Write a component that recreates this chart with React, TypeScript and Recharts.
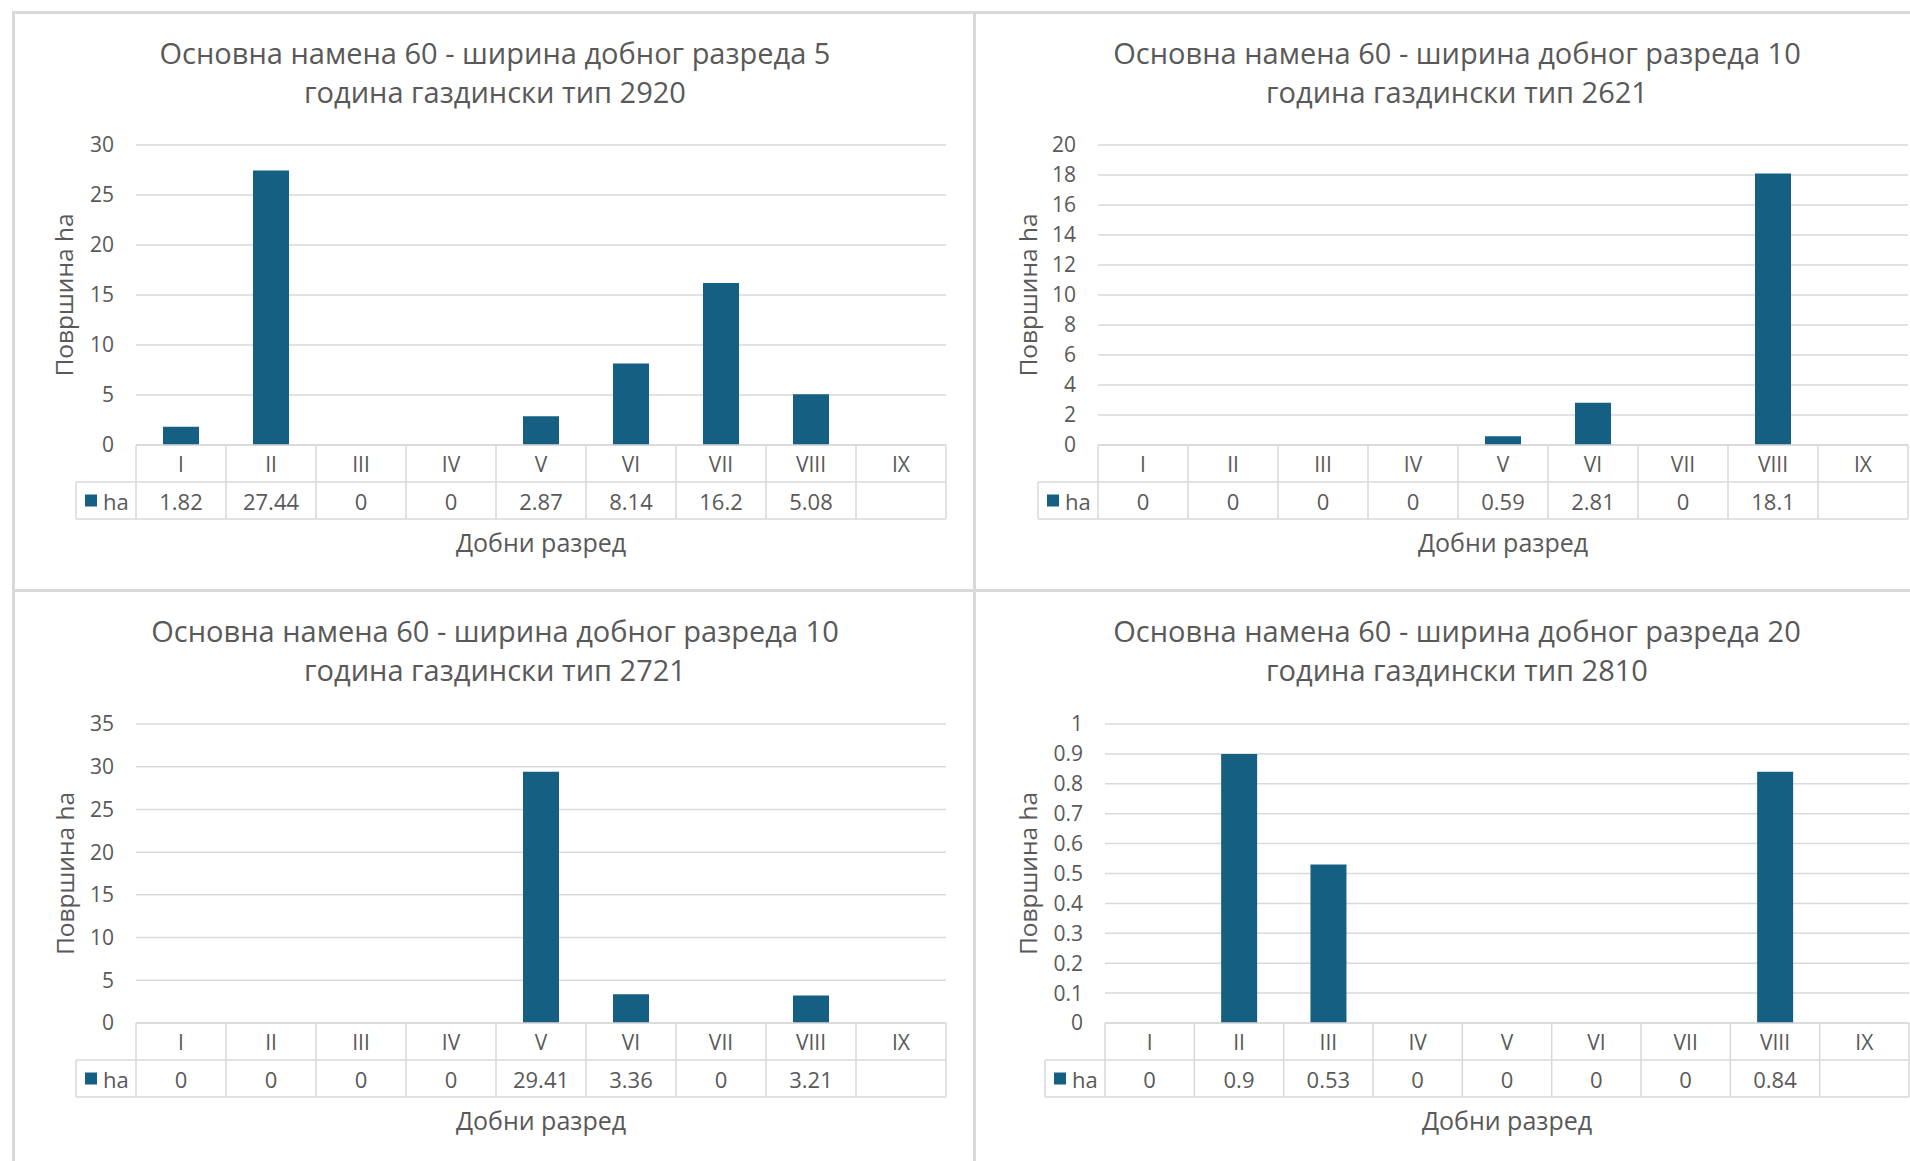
import React from 'react';
import { BarChart, Bar, XAxis, YAxis, CartesianGrid } from 'recharts';

// категорије (добни разреди)
const categories = ['I', 'II', 'III', 'IV', 'V', 'VI', 'VII', 'VIII', 'IX'];

// површине по разредима, ha
const values2920 = [1.82, 27.44, 0, 0, 2.87, 8.14, 16.2, 5.08, null];
const values2621 = [0, 0, 0, 0, 0.59, 2.81, 0, 18.1, null];
const values2721 = [0, 0, 0, 0, 29.41, 3.36, 0, 3.21, null];
const values2810 = [0, 0.9, 0.53, 0, 0, 0, 0, 0.84, null];

// подеоци на Y оси
const ticks2920 = [0, 5, 10, 15, 20, 25, 30];
const ticks2621 = [0, 2, 4, 6, 8, 10, 12, 14, 16, 18, 20];
const ticks2721 = [0, 5, 10, 15, 20, 25, 30, 35];
const ticks2810 = [0, 0.1, 0.2, 0.3, 0.4, 0.5, 0.6, 0.7, 0.8, 0.9, 1];

const titles = [
  ['Основна намена 60 - ширина добног разреда 5', 'година газдински тип 2920'],
  ['Основна намена 60 - ширина добног разреда 10', 'година газдински тип 2621'],
  ['Основна намена 60 - ширина добног разреда 10', 'година газдински тип 2721'],
  ['Основна намена 60 - ширина добног разреда 20', 'година газдински тип 2810'],
];

const FONT = '"Open Sans", sans-serif';
const TEXT = '#595959';
const GRID = '#D9D9D9';
const BAR = '#156082';
const XH = 80;
const LEG_W = 60;

type Panel = {
  title: string[];
  values: (number | null)[];
  ticks: number[];
  box: { left: number; top: number; w: number; h: number };
  plot: { l: number; t: number; r: number; b: number };
  titleCx: number;
  yTitleX: number;
};

const panels: Panel[] = [
  {
    title: titles[0], values: values2920, ticks: ticks2920,
    box: { left: 14, top: 12, w: 961, h: 578 },
    plot: { l: 136, t: 145, r: 946, b: 445 },
    titleCx: 495, yTitleX: 73,
  },
  {
    title: titles[1], values: values2621, ticks: ticks2621,
    box: { left: 975, top: 12, w: 935, h: 578 },
    plot: { l: 1098, t: 145, r: 1908, b: 445 },
    titleCx: 1457, yTitleX: 1037,
  },
  {
    title: titles[2], values: values2721, ticks: ticks2721,
    box: { left: 14, top: 590, w: 961, h: 571 },
    plot: { l: 136, t: 724, r: 946, b: 1023 },
    titleCx: 495, yTitleX: 74,
  },
  {
    title: titles[3], values: values2810, ticks: ticks2810,
    box: { left: 975, top: 590, w: 935, h: 571 },
    plot: { l: 1105, t: 724, r: 1909, b: 1023 },
    titleCx: 1457, yTitleX: 1037,
  },
];

// табела испод графика: ред са разредима и ред са вредностима
const makeTableTick = (p: Panel) => (props: any) => {
  const { x, payload } = props;
  const i = payload?.index ?? props.index ?? 0;
  const colW = (p.plot.r - p.plot.l) / categories.length;
  const top = p.plot.b - p.box.top;
  const mid = top + 37;
  const bot = top + 74;
  const x0 = x - colW / 2;
  const x1 = x + colW / 2;
  const v = p.values[i];
  const line = { stroke: GRID, strokeWidth: 1.5 };
  return (
    <g>
      <line x1={x0} x2={x1} y1={top} y2={top} {...line} />
      <line x1={x0} x2={x1} y1={mid} y2={mid} {...line} />
      <line x1={x0} x2={x1} y1={bot} y2={bot} {...line} />
      <line x1={x0} x2={x0} y1={top} y2={bot} {...line} />
      {i === categories.length - 1 && <line x1={x1} x2={x1} y1={top} y2={bot} {...line} />}
      <text x={x} y={top + 18.5} textAnchor="middle" dominantBaseline="central"
        fill={TEXT} fontSize={21} fontFamily={FONT}>{payload.value}</text>
      <text x={x} y={mid + 18.5} textAnchor="middle" dominantBaseline="central"
        fill={TEXT} fontSize={22} fontFamily={FONT}>{v === null ? '' : String(v)}</text>
      {i === 0 && (
        <g>
          <line x1={x0 - LEG_W} x2={x0} y1={mid} y2={mid} {...line} />
          <line x1={x0 - LEG_W} x2={x0} y1={bot} y2={bot} {...line} />
          <line x1={x0 - LEG_W} x2={x0 - LEG_W} y1={mid} y2={bot} {...line} />
          <rect x={x0 - LEG_W + 9} y={mid + 12.5} width={12} height={12} fill={BAR} />
          <text x={x0 - LEG_W + 27} y={mid + 18.5} dominantBaseline="central"
            fill={TEXT} fontSize={22} fontFamily={FONT}>ha</text>
        </g>
      )}
    </g>
  );
};

const PanelChart = ({ p }: { p: Panel }) => {
  const data = categories.map((c, i) => ({ name: c, ha: p.values[i] }));
  const margin = {
    top: p.plot.t - p.box.top,
    left: 0,
    right: p.box.left + p.box.w - p.plot.r,
    bottom: p.box.top + p.box.h - p.plot.b - XH,
  };
  return (
    <div style={{ position: 'absolute', left: p.box.left, top: p.box.top }}>
      <BarChart width={p.box.w} height={p.box.h} data={data} margin={margin} barCategoryGap="30%">
        <CartesianGrid vertical={false} stroke={GRID} strokeWidth={1.5} />
        <XAxis
          dataKey="name"
          height={XH}
          interval={0}
          axisLine={false}
          tickLine={false}
          tick={makeTableTick(p)}
        />
        <YAxis
          width={p.plot.l - p.box.left}
          domain={[0, p.ticks[p.ticks.length - 1]]}
          ticks={p.ticks}
          interval={0}
          axisLine={false}
          tickLine={false}
          tickSize={0}
          tickMargin={22}
          tick={{ fill: TEXT, fontSize: 21, fontFamily: FONT }}
        />
        <Bar dataKey="ha" fill={BAR} isAnimationActive={false} />
      </BarChart>
    </div>
  );
};

const Labels = ({ p }: { p: Panel }) => {
  const yMid = (p.plot.t + p.plot.b) / 2;
  const xMid = (p.plot.l + p.plot.r) / 2;
  return (
    <g fill={TEXT} fontFamily={FONT}>
      <text x={p.titleCx} y={p.box.top + 52} textAnchor="middle" fontSize={29}>{p.title[0]}</text>
      <text x={p.titleCx} y={p.box.top + 91} textAnchor="middle" fontSize={29}>{p.title[1]}</text>
      <text x={p.yTitleX} y={yMid} textAnchor="middle" fontSize={24.5}
        transform={`rotate(-90 ${p.yTitleX} ${yMid})`}>Површина ha</text>
      <text x={xMid} y={p.plot.b + 107} textAnchor="middle" fontSize={25}>Добни разред</text>
    </g>
  );
};

const frame = (left: number, top: number, w: number, h: number) => (
  <div style={{ position: 'absolute', left, top, width: w, height: h, background: GRID }} />
);

export default function App() {
  return (
    <div style={{ position: 'absolute', left: 0, top: 0, width: 1910, height: 1161, overflow: 'hidden', background: '#fff' }}>
      {panels.map((p, i) => <PanelChart key={i} p={p} />)}
      {frame(12, 11, 1898, 3)}
      {frame(12, 11, 3, 1150)}
      {frame(973, 11, 3, 1150)}
      {frame(12, 589, 1898, 3)}
      <svg width={1910} height={1161} style={{ position: 'absolute', left: 0, top: 0, pointerEvents: 'none' }}>
        {panels.map((p, i) => <Labels key={i} p={p} />)}
      </svg>
    </div>
  );
}
